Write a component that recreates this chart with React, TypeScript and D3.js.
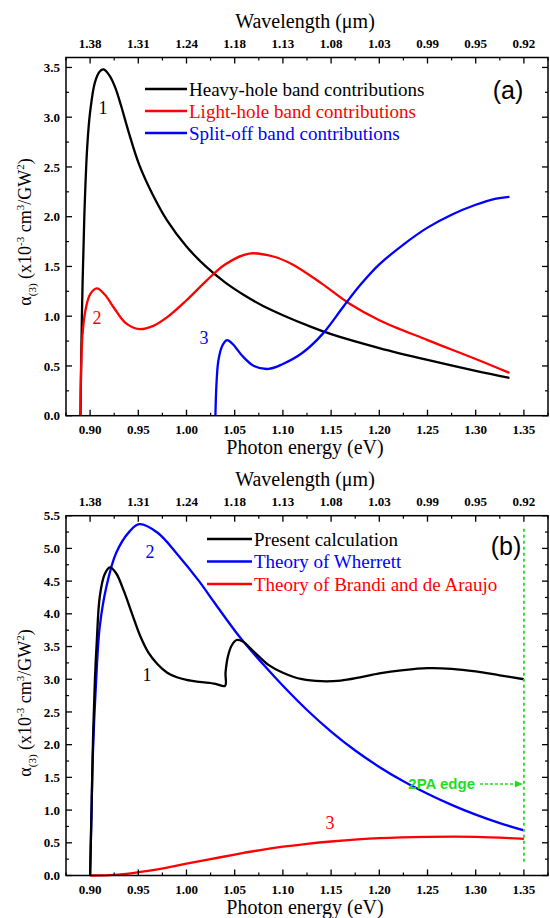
import * as d3 from "d3";

// ---- data (photon energy eV, alpha(3)) ----
const heavyHole: [number, number][] = [
  [0.89, 0], [0.8915, 1.0], [0.894, 2.0], [0.897, 2.7], [0.9, 3.05], [0.905, 3.35],
  [0.91, 3.46], [0.914, 3.48], [0.92, 3.42], [0.926, 3.3], [0.932, 3.12], [0.94, 2.85],
  [0.951, 2.52], [0.965, 2.22], [0.98, 1.96], [1.0, 1.7], [1.02, 1.5], [1.04, 1.34],
  [1.06, 1.21], [1.08, 1.1], [1.1, 1.01], [1.13, 0.89], [1.15, 0.82], [1.2, 0.68],
  [1.25, 0.56], [1.3, 0.45], [1.335, 0.38],
];
const lightHole: [number, number][] = [
  [0.89, 0], [0.8905, 0.4], [0.892, 0.8], [0.895, 1.05], [0.9, 1.22], [0.907, 1.28],
  [0.915, 1.22], [0.925, 1.08], [0.937, 0.93], [0.951, 0.87], [0.965, 0.9], [0.98, 0.99],
  [1.0, 1.16], [1.02, 1.35], [1.04, 1.52], [1.065, 1.63], [1.09, 1.6], [1.11, 1.52],
  [1.14, 1.33], [1.17, 1.12], [1.2, 0.96], [1.25, 0.76], [1.3, 0.57], [1.335, 0.43],
];
const splitOff: [number, number][] = [
  [1.03, 0], [1.031, 0.3], [1.033, 0.55], [1.037, 0.7], [1.042, 0.76], [1.048, 0.72],
  [1.058, 0.6], [1.07, 0.5], [1.085, 0.47], [1.1, 0.52], [1.12, 0.63], [1.141, 0.82],
  [1.163, 1.1], [1.18, 1.31], [1.2, 1.52], [1.225, 1.72], [1.25, 1.89], [1.275, 2.02],
  [1.3, 2.12], [1.32, 2.18], [1.335, 2.2],
];

const present: [number, number][] = [
  [0.9, 0], [0.9015, 1.0], [0.903, 2.07], [0.905, 3.0], [0.907, 3.6], [0.91, 4.26],
  [0.915, 4.6], [0.9205, 4.71], [0.927, 4.62], [0.935, 4.35], [0.944, 3.98], [0.952, 3.66],
  [0.96, 3.42], [0.97, 3.23], [0.98, 3.1], [0.99, 3.03], [1.0, 2.99], [1.013, 2.96],
  [1.03, 2.93], [1.04, 2.9], [1.0405, 3.1], [1.043, 3.35], [1.047, 3.52], [1.052, 3.6],
  [1.058, 3.58], [1.07, 3.42], [1.085, 3.22], [1.1, 3.1], [1.12, 3.0], [1.14, 2.97],
  [1.16, 2.98], [1.18, 3.03], [1.2, 3.09], [1.225, 3.14], [1.25, 3.17], [1.275, 3.16],
  [1.3, 3.12], [1.325, 3.06], [1.35, 3.0],
];
const wherrett: [number, number][] = [
  [0.9, 0], [0.9015, 1.0], [0.903, 1.9], [0.906, 2.9], [0.91, 3.8], [0.917, 4.42],
  [0.927, 4.93], [0.941, 5.26], [0.951, 5.37], [0.97, 5.24], [0.99, 4.92], [1.013, 4.5],
  [1.03, 4.15], [1.055, 3.65], [1.08, 3.22], [1.1, 2.9], [1.125, 2.53], [1.15, 2.2],
  [1.175, 1.91], [1.2, 1.66], [1.225, 1.44], [1.25, 1.25], [1.275, 1.08], [1.3, 0.93],
  [1.325, 0.8], [1.35, 0.69],
];
const brandi: [number, number][] = [
  [0.9, 0], [0.92, 0.005], [0.94, 0.03], [0.96, 0.07], [0.98, 0.12], [1.0, 0.18],
  [1.025, 0.25], [1.05, 0.32], [1.075, 0.385], [1.1, 0.44], [1.125, 0.485], [1.15, 0.52],
  [1.2, 0.57], [1.25, 0.59], [1.3, 0.59], [1.35, 0.56],
];

const energyTicks = [0.9, 0.95, 1.0, 1.05, 1.1, 1.15, 1.2, 1.25, 1.3, 1.35];
const wavelengthLabels = ["1.38", "1.31", "1.24", "1.18", "1.13", "1.08", "1.03", "0.99", "0.95", "0.92"];

const legendA = [
  { label: "Heavy-hole band contributions", color: "#000000" },
  { label: "Light-hole band contributions", color: "#ff0000" },
  { label: "Split-off band contributions", color: "#0000ff" },
];
const legendB = [
  { label: "Present calculation", color: "#000000" },
  { label: "Theory of Wherrett", color: "#0000ff" },
  { label: "Theory of Brandi and de Araujo", color: "#ff0000" },
];

const serif = { fontFamily: '"Liberation Serif", "DejaVu Serif", serif' };
const sans = { fontFamily: '"Liberation Sans", Arial, sans-serif' };

const W = 550;
const H = 918;
const left = 66;
const right = 548;

type Series = { data: [number, number][]; color: string };

function YTitle({ cx, cy }: { cx: number; cy: number }) {
  return (
    <text transform={`translate(${cx},${cy}) rotate(-90)`} textAnchor="middle" style={serif} fontSize={18} fill="#000">
      <tspan>α</tspan>
      <tspan fontSize={11} dy={5}>(3)</tspan>
      <tspan dy={-5}> (x10</tspan>
      <tspan fontSize={11} dy={-7}>-3</tspan>
      <tspan dy={7}> cm</tspan>
      <tspan fontSize={11} dy={-7}>3</tspan>
      <tspan dy={7}>/GW</tspan>
      <tspan fontSize={11} dy={-7}>2</tspan>
      <tspan dy={7}>)</tspan>
    </text>
  );
}

function Panel({
  top, bottom, yMax, yLabelMax, series, legend, legendX, legendY, legendGap, lineLen, tag, tagX, tagY, titleCy,
}: {
  top: number; bottom: number; yMax: number; yLabelMax: number; series: Series[];
  legend: { label: string; color: string }[]; legendX: number; legendY: number; legendGap: number;
  lineLen: number; tag: string; tagX: number; tagY: number; titleCy: number;
}) {
  const x = d3.scaleLinear().domain([0.875, 1.375]).range([left, right]);
  const y = d3.scaleLinear().domain([0, yMax]).range([bottom, top]);
  const line = d3
    .line<[number, number]>()
    .x((d) => x(d[0]))
    .y((d) => y(d[1]))
    .curve(d3.curveCatmullRom.alpha(0.5));

  const xMinor = d3.range(0.875, 1.3751, 0.025).filter((v) => !energyTicks.some((t) => Math.abs(t - v) < 1e-6));
  const yMajor = d3.range(0, yLabelMax + 0.001, 0.5);
  const yMinor = d3.range(0.25, yMax - 0.01, 0.5);

  return (
    <g>
      <defs>
        <clipPath id={`clip-${tag}`}>
          <rect x={left} y={top} width={right - left} height={bottom - top} />
        </clipPath>
      </defs>
      <g clipPath={`url(#clip-${tag})`}>
        {series.map((s, i) => (
          <path key={i} d={line(s.data) ?? ""} fill="none" stroke={s.color} strokeWidth={2.3} strokeLinejoin="round" />
        ))}
      </g>
      <rect x={left} y={top} width={right - left} height={bottom - top} fill="none" stroke="#000" strokeWidth={1.5} />
      {energyTicks.map((t, i) => (
        <g key={`xt${i}`}>
          <line x1={x(t)} x2={x(t)} y1={bottom} y2={bottom - 6} stroke="#000" strokeWidth={1.3} />
          <line x1={x(t)} x2={x(t)} y1={top} y2={top + 6} stroke="#000" strokeWidth={1.3} />
          <text x={x(t)} y={bottom + 18} textAnchor="middle" style={serif} fontSize={13} fontWeight="bold">
            {d3.format(".2f")(t)}
          </text>
          <text x={x(t)} y={top - 10} textAnchor="middle" style={serif} fontSize={13} fontWeight="bold">
            {wavelengthLabels[i]}
          </text>
        </g>
      ))}
      {xMinor.map((t, i) => (
        <g key={`xm${i}`}>
          <line x1={x(t)} x2={x(t)} y1={bottom} y2={bottom - 3} stroke="#000" strokeWidth={1.2} />
          <line x1={x(t)} x2={x(t)} y1={top} y2={top + 3} stroke="#000" strokeWidth={1.2} />
        </g>
      ))}
      {yMajor.map((t, i) => (
        <g key={`yt${i}`}>
          <line x1={left} x2={left + 6} y1={y(t)} y2={y(t)} stroke="#000" strokeWidth={1.3} />
          <line x1={right} x2={right - 6} y1={y(t)} y2={y(t)} stroke="#000" strokeWidth={1.3} />
          <text x={left - 6} y={y(t)} dy="0.35em" textAnchor="end" style={serif} fontSize={13} fontWeight="bold">
            {d3.format(".1f")(t)}
          </text>
        </g>
      ))}
      {yMinor.map((t, i) => (
        <g key={`ym${i}`}>
          <line x1={left} x2={left + 3} y1={y(t)} y2={y(t)} stroke="#000" strokeWidth={1.2} />
          <line x1={right} x2={right - 3} y1={y(t)} y2={y(t)} stroke="#000" strokeWidth={1.2} />
        </g>
      ))}
      <text x={305} y={bottom + 38} textAnchor="middle" style={serif} fontSize={20}>
        Photon energy (eV)
      </text>
      <text x={305} y={top - 30} textAnchor="middle" style={serif} fontSize={20}>
        Wavelength (μm)
      </text>
      <YTitle cx={31} cy={titleCy} />
      {legend.map((l, i) => (
        <g key={`lg${i}`}>
          <line x1={legendX} x2={legendX + lineLen} y1={legendY + i * legendGap} y2={legendY + i * legendGap} stroke={l.color} strokeWidth={2.3} />
          <text x={legendX + lineLen + 2} y={legendY + i * legendGap} dy="0.35em" style={serif} fontSize={19} fill={l.color}>
            {l.label}
          </text>
        </g>
      ))}
      <text x={tagX} y={tagY} textAnchor="middle" style={sans} fontSize={25}>
        {tag}
      </text>
    </g>
  );
}

export default function App() {
  const xs = d3.scaleLinear().domain([0.875, 1.375]).range([left, right]);
  const yb = d3.scaleLinear().domain([0, 5.5]).range([875.5, 515.7]);
  return (
    <svg width={W} height={H} style={{ position: "absolute", left: 0, top: 0, background: "#fff" }}>
      <rect width={W} height={H} fill="#fff" />
      <Panel
        top={57.5}
        bottom={415.7}
        yMax={3.6}
        yLabelMax={3.5}
        series={[
          { data: heavyHole, color: "#000000" },
          { data: lightHole, color: "#ff0000" },
          { data: splitOff, color: "#0000ff" },
        ]}
        legend={legendA}
        legendX={145}
        legendY={89}
        legendGap={22}
        lineLen={42}
        tag="(a)"
        tagX={508}
        tagY={99}
        titleCy={232}
      />
      <text x={103} y={114} textAnchor="middle" style={serif} fontSize={18}>1</text>
      <text x={97} y={324} textAnchor="middle" style={serif} fontSize={18} fill="#ff0000">2</text>
      <text x={204} y={344} textAnchor="middle" style={serif} fontSize={18} fill="#0000ff">3</text>

      <Panel
        top={515.7}
        bottom={875.5}
        yMax={5.5}
        yLabelMax={5.5}
        series={[
          { data: brandi, color: "#ff0000" },
          { data: wherrett, color: "#0000ff" },
          { data: present, color: "#000000" },
        ]}
        legend={legendB}
        legendX={207}
        legendY={539}
        legendGap={22.5}
        lineLen={45}
        tag="(b)"
        tagX={506}
        tagY={555}
        titleCy={703}
      />
      <text x={150} y={558} textAnchor="middle" style={serif} fontSize={18} fill="#0000ff">2</text>
      <text x={147} y={681} textAnchor="middle" style={serif} fontSize={18}>1</text>
      <text x={330} y={829} textAnchor="middle" style={serif} fontSize={18} fill="#ff0000">3</text>

      <line x1={xs(1.35)} x2={xs(1.35)} y1={yb(5.3)} y2={yb(0.2)} stroke="#22dd22" strokeWidth={1.8} strokeDasharray="3,3" />
      <text x={475} y={yb(1.4)} dy="0.35em" textAnchor="end" style={sans} fontSize={15} fontWeight="bold" fill="#22dd22">
        2PA edge
      </text>
      <line x1={480} x2={518} y1={yb(1.4)} y2={yb(1.4)} stroke="#22dd22" strokeWidth={1.5} strokeDasharray="3,2" />
      <path d={`M${xs(1.35) - 1},${yb(1.4)} l-8,-3.5 l0,7 z`} fill="#22dd22" />
    </svg>
  );
}
